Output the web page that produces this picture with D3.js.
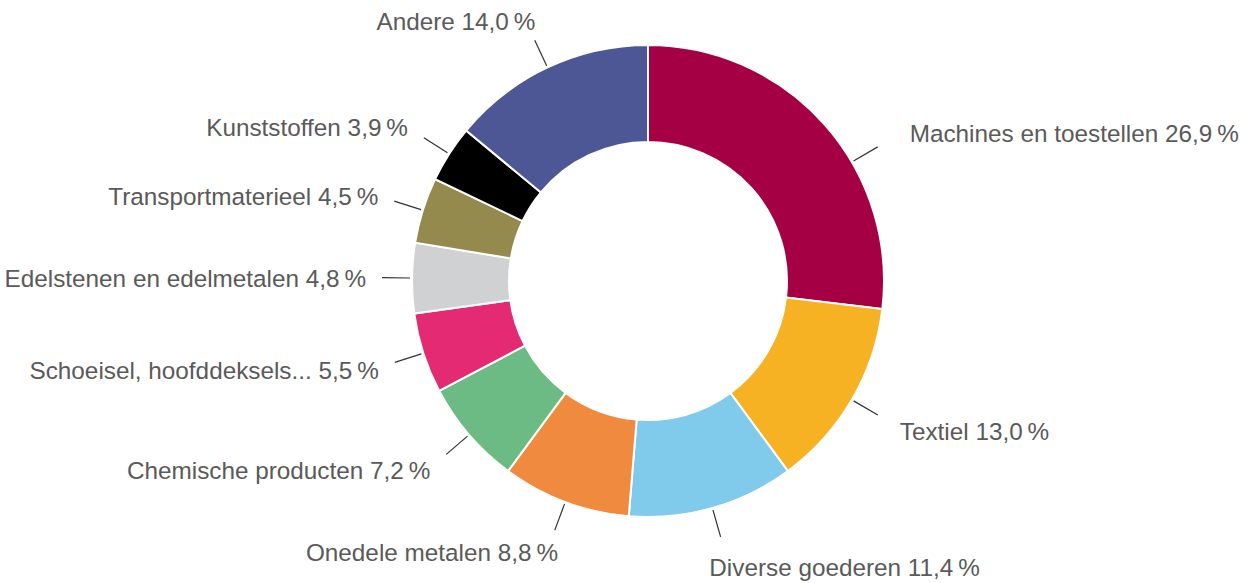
<!DOCTYPE html>
<html lang="nl">
<head>
    <meta charset="UTF-8">
    <title>Donut</title>
    <script src="https://d3js.org/d3.v7.min.js"></script>
    <style>
        body { margin: 0; background: #fff; }
        .label {
            font-family: "Liberation Sans", Arial, sans-serif;
            font-size: 24.3px;
            fill: #5a5a5a;
        }
        .leader { stroke: #333; stroke-width: 1.2px; fill: none; }
    </style>
</head>
<body>
    <svg width="1244" height="583"></svg>

    <script>
        // slices, clockwise from 12 o'clock
        var categories = [
            "Machines en toestellen", "Textiel", "Diverse goederen", "Onedele metalen",
            "Chemische producten", "Schoeisel, hoofddeksels...", "Edelstenen en edelmetalen",
            "Transportmaterieel", "Kunststoffen", "Andere"
        ];
        var values = [26.9, 13.0, 11.4, 8.8, 7.2, 5.5, 4.8, 4.5, 3.9, 14.0];
        var colors = [
            "#a50044", "#f6b223", "#80cbec", "#f08a3e", "#6dbb84",
            "#e52a74", "#d0d1d3", "#958a4e", "#000000", "#4e5795"
        ];

        var width = 1244, height = 583;
        var cx = 648, cy = 281;
        var rOuter = 236, rInner = 139;

        var svg = d3.select("svg");
        var g = svg.append("g").attr("transform", "translate(" + cx + "," + cy + ")");

        var data = categories.map(function(c, i) { return { name: c, value: values[i], color: colors[i] }; });

        var pie = d3.pie().sort(null).value(function(d) { return d.value; });
        var arc = d3.arc().innerRadius(rInner).outerRadius(rOuter);

        var arcs = pie(data);

        g.selectAll("path")
            .data(arcs)
            .enter().append("path")
            .attr("d", arc)
            .attr("fill", function(d) { return d.data.color; })
            .attr("stroke", "#fff")
            .attr("stroke-width", 2);

        // the first label sits a bit lower in the original
        var nudge = { "Machines en toestellen": { angle: 11.3, dx: 10 } };

        var fmt = function(v) { return d3.format(".1f")(v).replace(".", ","); };

        arcs.forEach(function(d) {
            var n = nudge[d.data.name] || { angle: 0, dx: 0 };
            var a = (d.startAngle + d.endAngle) / 2 + n.angle * Math.PI / 180;
            var s = Math.sin(a), c = Math.cos(a);
            var x1 = s * (rOuter + 2), y1 = -c * (rOuter + 2);
            var x2 = s * 266, y2 = -c * 266;

            g.append("line")
                .attr("class", "leader")
                .attr("x1", x1).attr("y1", y1)
                .attr("x2", x2).attr("y2", y2);

            var right = s >= 0;
            var steep = Math.max(0, c * c - 0.45);
            var gap = right ? 22 - 70 * steep : 16 - 45 * steep;
            gap += n.dx;
            var k = right ? 30 : 22;
            g.append("text")
                .attr("class", "label")
                .attr("text-anchor", right ? "start" : "end")
                .attr("x", x2 + (right ? gap : -gap))
                .attr("y", y2 + 10 - k * c)
                .text(d.data.name + " " + fmt(d.data.value) + "\u2009%");
        });
    </script>
</body>
</html>
